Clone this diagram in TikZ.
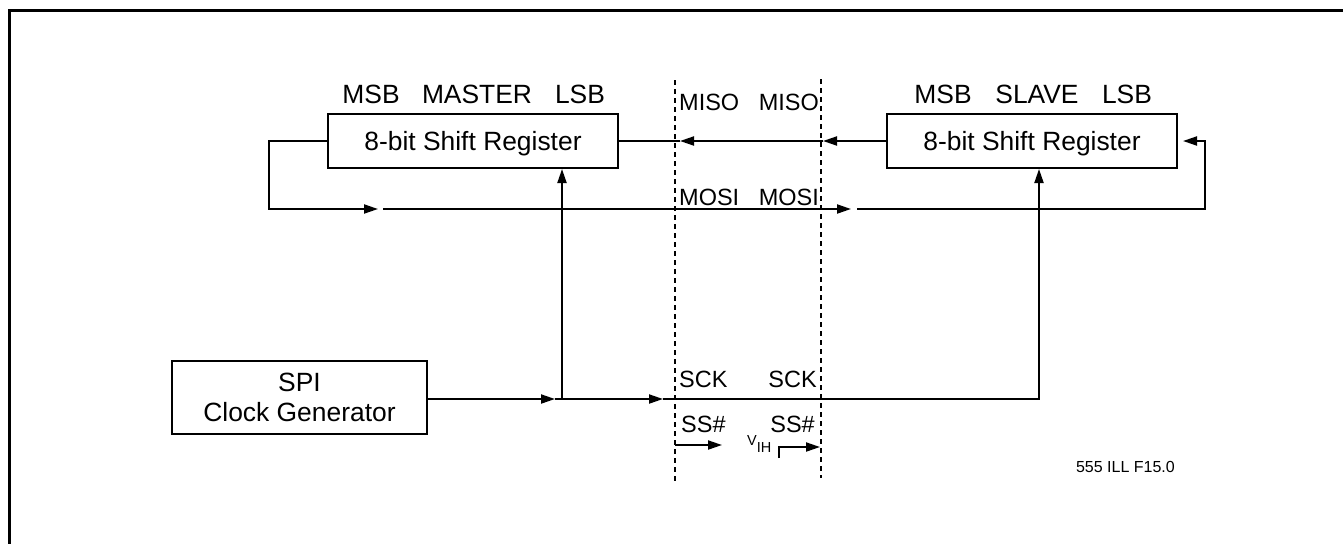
\documentclass[tikz,border=0pt]{standalone}
\usepackage{fontspec}
\setmainfont{Liberation Sans}
\usetikzlibrary{arrows.meta}
\begin{document}
\begin{tikzpicture}[x=1pt,y=-1pt,
  lbl/.style={font=\fontsize{23.5}{28}\selectfont,inner sep=0pt},
  big/.style={font=\fontsize{26.4}{30}\selectfont,inner sep=0pt},
  box/.style={draw,line width=2pt,inner sep=0pt,big,align=center,text depth=0pt},
  wire/.style={line width=2pt},
  arr/.style={wire,-{Triangle[length=14pt,width=9pt]}},
  bus/.style={line width=2pt,dash pattern=on 5pt off 4pt},
  frame/.style={line width=3pt}]
\useasboundingbox (0,0) rectangle (1343,544);
% frame
\draw[frame] (1343,10) -- (9,10) -- (9,544);
% boxes
\node[box,minimum width=290pt,minimum height=54pt] (m) at (473,141) {8-bit Shift Register};
\node[box,minimum width=290pt,minimum height=54pt] (s) at (1032,141) {8-bit Shift Register};
\node[box,minimum width=255pt,minimum height=73pt] (clk) at (299.5,397.5) {SPI\\Clock Generator};
% register labels
\node[big,anchor=base] (mmsb) at (371,103) {MSB};
\node[big,anchor=base] (mname) at (477,103) {MASTER};
\node[big,anchor=base] (mlsb) at (580,103) {LSB};
\node[big,anchor=base] (smsb) at (943,103) {MSB};
\node[big,anchor=base] (sname) at (1037,103) {SLAVE};
\node[big,anchor=base] (slsb) at (1127,103) {LSB};
% boundary lines
\coordinate (bL1) at (675,80);
\coordinate (bL2) at (675,481);
\coordinate (bR1) at (821,79);
\coordinate (bR2) at (821,478);
\draw[bus] (bL1) -- (bL2);
\draw[bus] (bR1) -- (bR2);
% pin labels
\node[lbl,anchor=base west] (misoL) at (679,110) {MISO};
\node[lbl,anchor=base east] (misoR) at (819,110) {MISO};
\node[lbl,anchor=base west] (mosiL) at (679,205) {MOSI};
\node[lbl,anchor=base east] (mosiR) at (819,205) {MOSI};
\node[lbl,anchor=base west] (sckL) at (679,387) {SCK};
\node[lbl,anchor=base east] (sckR) at (817,387) {SCK};
\node[lbl,anchor=base west] (ssL) at (681,432) {SS\#};
\node[lbl,anchor=base east] (ssR) at (815,432) {SS\#};
\node[inner sep=0pt,anchor=base west,font=\fontsize{14.5}{17}\selectfont] (vih) at (747,445) {V\raisebox{-7pt}{IH}};
\node[inner sep=0pt,anchor=base east,font=\fontsize{16}{19}\selectfont] (ill) at (1175,472) {555 ILL F15.0};
% MISO path
\coordinate (mi1) at (823,141);
\coordinate (mi2) at (680,141);
\draw[arr] (s.west) -- (mi1);
\draw[arr] (mi1) -- (mi2);
\draw[wire] (mi2) -- (m.east);
% MOSI loop
\coordinate (mo0) at (269,141);
\coordinate (mo1) at (269,209);
\coordinate (mo2) at (378,209);
\coordinate (mo3) at (383,209);
\coordinate (mo4) at (851,209);
\coordinate (mo5) at (857,209);
\coordinate (mo6) at (1205,209);
\coordinate (mo7) at (1205,141);
\draw[arr] (m.west) -- (mo0) -- (mo1) -- (mo2);
\draw[arr] (mo3) -- (mo4);
\draw[arr,shorten >=5pt] (mo5) -- (mo6) -- (mo7) -- (s.east);
% clock
\coordinate (ck0) at (427,399);
\coordinate (ck1) at (555,399);
\coordinate (ck2) at (562,399);
\coordinate (ck3) at (663,399);
\coordinate (ck4) at (1039,399);
\draw[arr] (ck0) -- (ck1);
\draw[wire] (ck1) -- (ck2);
\draw[arr] (ck2) -- (ck2 |- m.south);
\draw[arr] (ck2) -- (ck3);
\draw[arr] (ck3) -- (ck4) -- (ck4 |- s.south);
% SS# arrows
\coordinate (ss0) at (675,445);
\coordinate (ss1) at (722,445);
\coordinate (ss2) at (779,458);
\coordinate (ss3) at (779,447);
\coordinate (ss4) at (820,447);
\draw[arr] (ss0) -- (ss1);
\draw[arr] (ss2) -- (ss3) -- (ss4);
\end{tikzpicture}
\end{document}
